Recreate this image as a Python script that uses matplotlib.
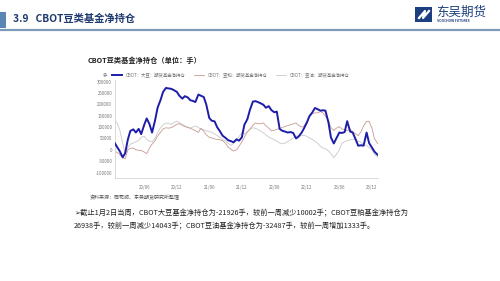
import matplotlib
matplotlib.use("Agg")
import matplotlib.pyplot as plt
from matplotlib.patches import Rectangle
from matplotlib.lines import Line2D
import pandas as pd

plt.rcParams['font.family'] = ['Noto Sans CJK SC', 'DejaVu Sans']

# half-monthly readings, 2020-01 .. 2023-12, plus first and last week
first_date = "2019-12-20"
last_date = "2024-01-02"

soybean = [28000,
    12000, -5000, -33000, -15000, 45000, 83000, 90000, 76000,
    92000, 69000, 110000, 138000, 112000, 76000, 130000, 185000,
    220000, 255000, 272000, 270000, 268000, 262000, 255000, 238000,
    225000, 236000, 230000, 218000, 215000, 210000, 243000, 238000,
    232000, 200000, 140000, 128000, 125000, 100000, 80000, 62000,
    52000, 42000, 38000, 33000, 46000, 40000, 55000, 110000,
    135000, 175000, 212000, 214000, 210000, 205000, 198000, 185000,
    192000, 175000, 165000, 168000, 92000, 84000, 80000, 76000,
    78000, 74000, 50000, 58000, 75000, 95000, 120000, 148000,
    165000, 184000, 178000, 172000, 174000, 172000, 120000, 54000,
    28000, 50000, 76000, 74000, 78000, 126000, 80000, 76000,
    45000, 18000, 20000, 18000, 76000, 30000, 10000, -8000,
    -21926]

meal = [-6000,
    -12000, -20000, -35000, -40000, 0, 6000, 8000, 0,
    -2000, -3000, -10000, -17000, 8000, 25000, 40000, 60000,
    78000, 92000, 97000, 95000, 98000, 104000, 112000, 115000,
    108000, 102000, 98000, 94000, 90000, 84000, 76000, 95000,
    82000, 66000, 55000, 52000, 48000, 46000, 44000, 40000,
    28000, 12000, 2000, -5000, 0, 15000, 35000, 55000,
    80000, 90000, 108000, 118000, 114000, 115000, 118000, 106000,
    95000, 83000, 86000, 90000, 94000, 98000, 103000, 106000,
    110000, 114000, 118000, 108000, 100000, 105000, 125000, 145000,
    160000, 162000, 163000, 168000, 162000, 148000, 130000, 97000,
    85000, 95000, 102000, 92000, 88000, 84000, 90000, 80000,
    70000, 62000, 80000, 105000, 125000, 125000, 95000, 50000,
    26938]

oil = [126000,
    118000, 90000, 30000, -20000, 10000, 25000, 30000, 35000,
    42000, 55000, 60000, 45000, 38000, 35000, 50000, 75000,
    98000, 110000, 118000, 116000, 112000, 120000, 126000, 120000,
    112000, 105000, 100000, 96000, 100000, 105000, 98000, 90000,
    88000, 83000, 80000, 77000, 70000, 62000, 54000, 45000,
    38000, 28000, 20000, 28000, 40000, 58000, 76000, 70000,
    78000, 90000, 97000, 94000, 90000, 82000, 75000, 65000,
    56000, 50000, 45000, 38000, 30000, 26000, 30000, 36000,
    44000, 52000, 60000, 62000, 62000, 63000, 60000, 52000,
    45000, 38000, 28000, 15000, 8000, 5000, -5000, -17000,
    -35000, -20000, 0, 28000, 36000, 40000, 44000, 47000,
    44000, 38000, 32000, 24000, 19000, 10000, 0, -20000,
    -32487]

series_names = ["CBOT：大豆：期货基金净持仓", "CBOT：豆粕：期货基金净持仓", "CBOT：豆油：期货基金净持仓"]
tick_dates = ["2020-06-01", "2020-12-01", "2021-06-01", "2021-12-01",
              "2022-06-01", "2022-12-01", "2023-06-01", "2023-12-01"]
tick_labels = ["20/06", "20/12", "21/06", "21/12", "22/06", "22/12", "23/06", "23/12"]
yticks = [-100000, -50000, 0, 50000, 100000, 150000, 200000, 250000, 300000]

dates = ([pd.Timestamp(first_date)]
         + list(pd.date_range("2020-01-01", periods=96, freq="SMS"))
         + [pd.Timestamp(last_date)])

fig = plt.figure(figsize=(5, 2.81), dpi=100)
fig.patch.set_facecolor("white")

# header
fig.add_artist(Rectangle((0.0, 1 - 28/281), 0.011, 16/281, transform=fig.transFigure,
                         color="#5a86b6", lw=0))
fig.text(0.026, 1 - 18.5/281, "3.9   CBOT豆类基金净持仓", fontsize=7.4, fontweight="bold",
         color="#1f3b70", va="center", ha="left")
fig.add_artist(Line2D([0, 1], [1 - 29.5/281, 1 - 29.5/281], transform=fig.transFigure,
                      color="#7d9bb8", lw=1.6))

# logo
fig.add_artist(Rectangle((415/500, 1 - 22/281), 17/500, 15/281, transform=fig.transFigure,
                         color="#1c3f7f", lw=0))
fig.add_artist(Line2D([419/500, 425/500, 423/500, 429/500],
                      [1 - 18/281, 1 - 11/281, 1 - 18/281, 1 - 11/281],
                      transform=fig.transFigure, color="white", lw=1.6))
fig.text(436/500, 1 - 12.5/281, "东吴期货", fontsize=9, color="#1c3f7f",
         va="center", ha="left")
fig.text(437/500, 1 - 20.5/281, "SOOCHOW FUTURES", fontsize=2.4, color="#1c3f7f",
         fontweight="bold", va="center", ha="left")

# chart title
fig.text(88/500, 1 - 60/281, "CBOT豆类基金净持仓（单位：手）", fontsize=5.2,
         fontweight="bold", color="#222222", va="center", ha="left")

ax = fig.add_axes([115/500, 1 - 178/281, 263/500, 98/281])
ax.plot(dates, oil, color="#c9c9c9", lw=0.6, label=series_names[2], zorder=1)
ax.plot(dates, meal, color="#c99a93", lw=0.6, label=series_names[1], zorder=2)
ax.plot(dates, soybean, color="#1d1daa", lw=1.4, label=series_names[0], zorder=3)

ax.set_xlim(pd.Timestamp(first_date), pd.Timestamp("2024-01-04"))
ax.set_ylim(-124000, 307000)
ax.set_yticks(yticks)
ax.set_yticklabels([str(v) for v in yticks])
ax.set_xticks([pd.Timestamp(d) for d in tick_dates])
ax.set_xticklabels(tick_labels)
ax.tick_params(axis="both", length=0, labelsize=3.2, colors="#777777", pad=2)
ax.tick_params(axis="x", pad=5)
for side in ["top", "right"]:
    ax.spines[side].set_visible(False)
for side in ["left", "bottom"]:
    ax.spines[side].set_color("#d4d4d4")
    ax.spines[side].set_linewidth(0.6)
ax.text(-0.03, 1.045, "手", transform=ax.transAxes, fontsize=3.2, color="#777777",
        ha="right", va="center")

handles, labels = ax.get_legend_handles_labels()
order = [2, 1, 0]
fig.legend([handles[i] for i in order], [labels[i] for i in order],
           loc="center left", bbox_to_anchor=(108/500, 1 - 75/281), ncol=3,
           frameon=False, fontsize=3.2, labelcolor="#777777", handlelength=2.2,
           columnspacing=2.0, handletextpad=0.8)

# source + commentary
fig.text(90/500, 1 - 197/281, "资料来源：同花顺、东吴期货研究所整理", fontsize=3.6,
         color="#555555", va="center", ha="left")
fig.text(74/500, 1 - 213/281,
         "➢截止1月2日当周，CBOT大豆基金净持仓为-21926手，较前一周减少10002手；CBOT豆粕基金净持仓为",
         fontsize=5.2, color="#222222", va="center", ha="left")
fig.text(74/500, 1 - 226/281,
         "26938手，较前一周减少14043手；CBOT豆油基金净持仓为-32487手，较前一周增加1333手。",
         fontsize=5.2, color="#222222", va="center", ha="left")

fig.savefig("out.png", dpi=100, facecolor="white")
